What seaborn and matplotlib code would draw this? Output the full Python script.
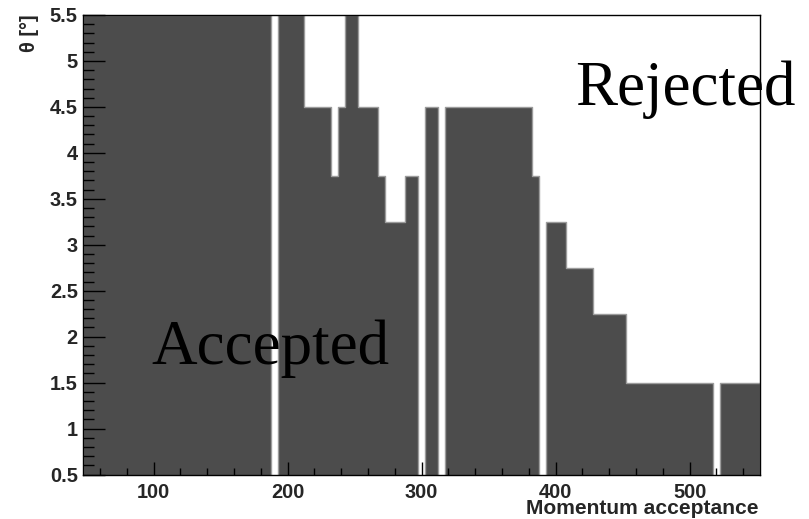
import numpy as np
import pandas as pd
import matplotlib
matplotlib.use("Agg")
import matplotlib.pyplot as plt
import seaborn as sns
from matplotlib.ticker import MultipleLocator

# ---- data: bin centres (width 5) and maximum accepted theta in each bin ----
momentum = list(range(50, 555, 5))
theta_max = (
    [5.5] * 28            # 50 .. 185
    + [0.0]               # 190
    + [5.5] * 4           # 195 .. 210
    + [4.5] * 4           # 215 .. 230
    + [3.75]              # 235
    + [4.5]               # 240
    + [5.5] * 2           # 245, 250
    + [4.5] * 3           # 255 .. 265
    + [3.75]              # 270
    + [3.25] * 3          # 275 .. 285
    + [3.75] * 2          # 290, 295
    + [0.0]               # 300
    + [4.5] * 2           # 305, 310
    + [0.0]               # 315
    + [4.5] * 13          # 320 .. 380
    + [3.75]              # 385
    + [0.0]               # 390
    + [3.25] * 3          # 395 .. 405
    + [2.75] * 4          # 410 .. 425
    + [2.25] * 5          # 430 .. 450
    + [1.5] * 13          # 455 .. 515
    + [0.0]               # 520
    + [1.5] * 6           # 525 .. 550
)
x_ticks = [100, 200, 300, 400, 500]
y_ticks = [0.5, 1, 1.5, 2, 2.5, 3, 3.5, 4, 4.5, 5, 5.5]
x_title = "Momentum acceptance"
y_title = "θ [°]"
region_labels = ["Rejected", "Accepted"]

df = pd.DataFrame({"p": momentum, "theta": theta_max})

sns.set_style("ticks")
plt.rcParams["font.family"] = ["Liberation Sans", "DejaVu Sans"]
plt.rcParams["axes.axisbelow"] = False

W, H = 809, 519
fig = plt.figure(figsize=(W / 100, H / 100), dpi=100)
ax = fig.add_axes([83.3 / W, 1 - 474.5 / H, (760 - 83.3) / W, (474.5 - 15) / H])

sns.histplot(data=df, x="p", weights="theta", binwidth=5, binrange=(47.5, 552.5),
             element="step", fill=True, color="#4c4c4c", alpha=1.0,
             edgecolor="#9c9c9c", linewidth=1.0, ax=ax, zorder=1)

ax.set_axisbelow(False)
ax.set_xlim(47.5, 552.5)
ax.set_ylim(0.5, 5.5)
ax.set_xlabel("")
ax.set_ylabel("")
ax.set_xticks(x_ticks)
ax.set_yticks(y_ticks)
ax.set_yticklabels([f"{v:g}" for v in y_ticks])
ax.xaxis.set_minor_locator(MultipleLocator(20))
ax.yaxis.set_minor_locator(MultipleLocator(0.1))

for s in ax.spines.values():
    s.set_visible(True)
    s.set_color("black")
    s.set_linewidth(1.0)
    s.set_zorder(5)

ax.tick_params(axis="x", which="major", direction="in", length=9.6, width=1.0,
               color="black", pad=6, labelsize=14.4, top=False)
ax.tick_params(axis="x", which="minor", direction="in", length=5.0, width=1.0,
               color="black", top=False)
ax.tick_params(axis="y", which="major", direction="in", length=15.6, width=1.0,
               color="black", pad=4, labelsize=14.4, right=False)
ax.tick_params(axis="y", which="minor", direction="in", length=7.7, width=1.0,
               color="black", right=False)
for lab in ax.get_xticklabels() + ax.get_yticklabels():
    lab.set_fontweight("bold")

# region labels
ax.text(414.4, 4.52, region_labels[0], family=["Liberation Serif", "DejaVu Serif"],
        fontsize=45.4, color="black", ha="left", va="baseline", clip_on=False, zorder=10)
ax.text(98.5, 1.70, region_labels[1], family=["Liberation Serif", "DejaVu Serif"],
        fontsize=45.4, color="black", ha="left", va="baseline", clip_on=False, zorder=10)

# axis titles (ROOT style placement)
fig.text(758 / W, 1 - 514 / H, x_title, ha="right", va="baseline",
         fontsize=15.1, fontweight="bold")
fig.text(30 / W, 1 - 14 / H, y_title, ha="center", va="top", rotation=90,
         fontsize=14.4, fontweight="bold")

fig.savefig("out.png", dpi=100)
